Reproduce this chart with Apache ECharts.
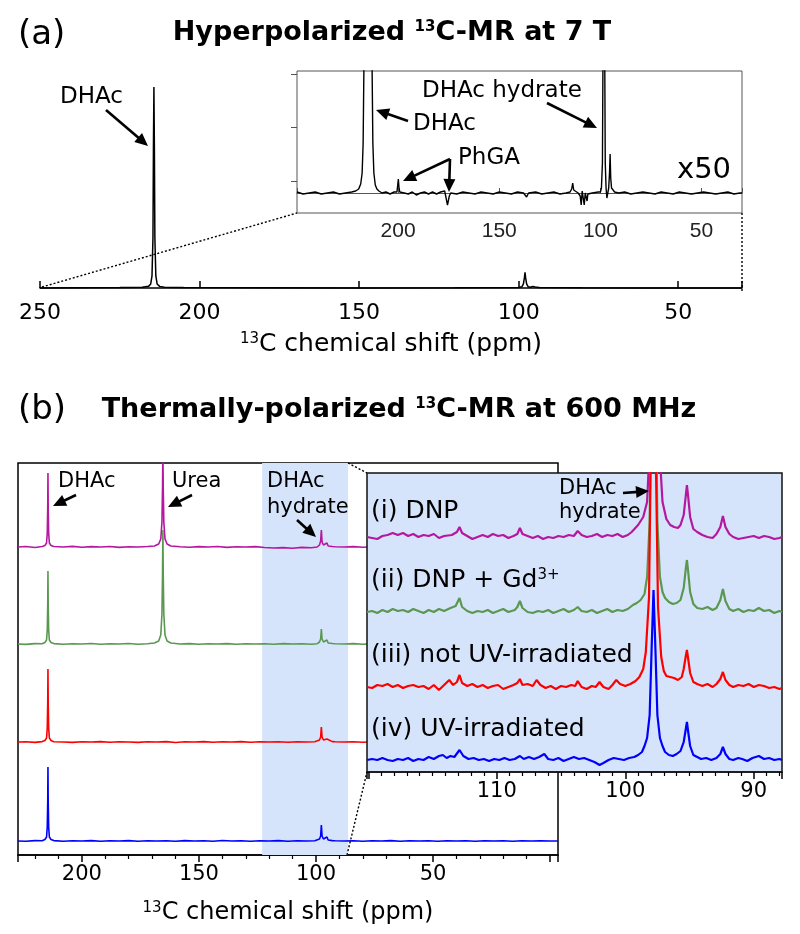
<!DOCTYPE html>
<html><head><meta charset="utf-8">
<script src="https://cdn.jsdelivr.net/npm/echarts@6/dist/echarts.min.js"></script>
<style>html,body{margin:0;padding:0;background:#fff}#c{width:800px;height:934px}</style>
</head><body><div id="c"></div>
<script>
// ---------- DATA ----------
// (a) hyperpolarized spectrum, [ppm, relative intensity]
const hpMain = [[250,0],[240,0.001],[225,0.002],[218,0.004],[216,0.008],[215.3,0.02],[214.9,0.06],[214.6,0.25],[214.45,0.7],[214.3,1.0],[214.15,0.7],[214.0,0.25],[213.7,0.06],[213.3,0.02],[212.5,0.008],[211,0.004],[205,0.002],[180,0.001],[150,0],[120,0.001],[100,0.002],[99,0.006],[98.5,0.02],[98.2,0.05],[98.0,0.078],[97.8,0.05],[97.5,0.02],[97,0.006],[96.3,0.004],[95.6,0.008],[95.2,0.01],[94.8,0.005],[93.5,0.002],[80,0.001],[60,0],[30,0]];
// (a) inset, x50 vertical zoom
const hpInset = [[250,1],[247,-1],[244,0],[241,1],[238,-1],[235,0],[232,1],[229,-1],[226,0],[223,1],[221,2],[219.5,4],[218.5,9],[217.8,20],[217.3,50],[216.8,150],[216,400],[214.5,500],[213.5,400],[213,150],[212.5,50],[212,20],[211.3,8],[210.5,4],[209.5,2],[208,0],[206,1],[204,-1],[202,1],[200.6,1],[200.2,8],[199.9,14],[199.6,6],[199.2,1],[197,0],[195,-1],[193,1],[191,-2],[189,0],[187,1],[185,-1],[183,1],[181,-1],[179,1],[177,2],[176.2,4],[175.6,-12],[175.2,-8],[174.7,-3],[174,0],[171,-1],[168,1],[165,0],[162,-1],[159,1],[156,0],[153,-1],[150,1],[147,0],[144,-1],[141,1],[138,0],[136.5,-4],[135.5,0],[132,1],[129,-1],[126,0],[123,1],[120,-1],[117,0],[115,1],[114.2,4],[113.7,10],[113.2,3],[112.5,1],[111,0],[110,-3],[109.5,-12],[109,2],[108.5,-5],[108,-12],[107.5,0],[107,-2],[106.6,-8],[106.2,-1],[104,0],[101,1],[100,1],[99.5,5],[99,30],[98.7,150],[98.3,500],[97.9,150],[97.6,30],[97.2,5],[96.8,-5],[96.4,-3],[95.9,5],[95.5,20],[95.2,39],[94.9,15],[94.5,5],[94,3],[93,1],[91,0],[88,1],[85,-1],[82,0],[79,1],[76,0],[73,-1],[70,1],[67,0],[64,-1],[61,1],[58,0],[55,-1],[52,0],[49,1],[46,0],[43,-1],[40,0],[37,1],[34,-1],[31,0],[30,0]];

// (b) full spectra
const fullDNP = [[227.3,0],[224,0.5],[220,-0.5],[217,0.5],[215.8,1.5],[215.1,4],[214.8,14],[214.6,40],[214.5,74],[214.4,40],[214.2,14],[213.9,4],[213.2,1.5],[212,0.5],[208,0],[204,0.6],[200,-0.3],[196,0.4],[192,0],[188,0.5],[184,-0.4],[180,0.3],[176,0],[172,0.5],[169,1],[167.2,3],[166.3,8],[165.8,25],[165.55,60],[165.4,95],[165.25,60],[165.0,25],[164.5,8],[163.6,3],[162,1],[158,0.3],[154,-0.3],[150,0.4],[146,0],[142,0.5],[138,-0.4],[134,0.2],[130,0],[126,0.4],[122,-0.5],[118,-1],[114,-0.6],[110,-1.2],[106,-0.4],[102,-0.8],[99.5,0],[98.5,2],[98,6],[97.7,17],[97.4,5],[96.8,2],[96,1],[95.3,4],[94.8,1],[93,0.5],[92.4,2],[91.8,0.3],[88,0],[84,0.4],[80,-0.3],[76,0.3],[72,0],[68,0.5],[64,-0.3],[60,0.3],[56,0],[52,0.4],[48,-0.3],[44,0.2],[40,0],[36,0.4],[32,-0.2],[28,0.3],[24,0],[20,0.3],[16,-0.2],[12,0.3],[8,0],[4,0.3],[0,0],[-3.4,0]];
const fullGd = [[227.3,0],[224,-0.4],[220,0.4],[217,0.3],[215.8,1.5],[215.1,4],[214.8,14],[214.6,40],[214.5,73],[214.4,40],[214.2,14],[213.9,4],[213.2,1.5],[212,0.4],[208,-0.3],[204,0.3],[200,0],[196,0.5],[192,-0.3],[188,0.2],[184,0],[180,0.5],[176,-0.2],[172,0.3],[169,1],[167.2,3],[166.3,9],[165.8,30],[165.55,70],[165.4,114],[165.25,70],[165.0,30],[164.5,9],[163.6,3],[162,1],[158,0],[154,0.4],[150,-0.3],[146,0.3],[142,0],[138,0.4],[134,-0.3],[130,0.3],[126,0],[122,0.3],[118,-0.2],[114,0.4],[110,0],[106,0.3],[102,-0.2],[99.5,0.3],[98.5,2],[98,5],[97.7,15],[97.4,5],[96.8,2],[96,1],[95.3,4],[94.8,1],[93,0.5],[92.4,2],[91.8,0.3],[88,0],[84,0.4],[80,-0.3],[76,0.4],[72,0],[68,0.3],[64,-0.3],[60,0.4],[56,0],[52,0.3],[48,-0.2],[44,0.3],[40,0],[36,0.3],[32,-0.2],[28,0.4],[24,0],[20,0.3],[16,-0.2],[12,0.3],[8,0],[4,0.2],[0,0],[-3.4,0]];
const fullNotUV = [[227.3,0],[224,0.3],[220,-0.4],[217,0.4],[215.8,1.5],[215.1,4],[214.8,14],[214.6,40],[214.5,73],[214.4,40],[214.2,14],[213.9,4],[213.2,1.5],[212,0.3],[208,0],[204,-0.4],[200,0.3],[196,0],[192,0.4],[188,-0.3],[184,0.3],[180,0],[176,-0.4],[172,0.3],[168,0],[164,0.4],[160,-0.5],[156,0.2],[152,0],[148,0.4],[144,-0.3],[140,0.3],[136,0],[132,0.4],[128,-0.3],[124,0.2],[120,0],[116,0.3],[112,-0.3],[108,0.2],[104,0],[100.5,0.3],[98.5,2],[98,5],[97.7,15],[97.4,5],[96.8,2],[96,1],[95.3,3],[94.8,1],[93,0.4],[92.4,1.5],[91.8,0.2],[88,0],[84,0.3],[80,-0.3],[76,0.3],[72,0],[68,0.4],[64,-0.2],[60,0.3],[56,0],[52,0.3],[48,-0.3],[44,0.2],[40,0],[36,0.3],[32,-0.2],[28,0.3],[24,0],[20,0.3],[16,-0.2],[12,0.2],[8,0],[4,0.3],[0,0],[-3.4,0]];
const fullUV = [[227.3,0],[224,-0.3],[220,0.4],[217,0.3],[215.8,1.5],[215.1,4],[214.8,14],[214.6,40],[214.5,74],[214.4,40],[214.2,14],[213.9,4],[213.2,1.5],[212,0.4],[208,-0.3],[204,0.3],[200,0],[196,0.4],[192,-0.3],[188,0.3],[184,0],[180,0.4],[176,-0.3],[172,0.2],[168,0],[164,0.3],[160,-0.3],[156,0.4],[152,0],[148,0.3],[144,-0.3],[140,0.5],[136,0],[132,0.3],[128,-0.2],[124,0.3],[120,0],[116,0.4],[112,-0.2],[108,0.3],[104,0],[100.5,0.3],[98.5,2],[98,5],[97.7,16],[97.4,5],[96.8,2],[96,1],[95.3,4],[94.8,1],[93,0.4],[92.4,1.5],[91.8,0.2],[88,0],[84,0.3],[80,-0.2],[76,0.3],[72,0],[68,0.4],[64,-0.3],[60,0.3],[56,0],[52,0.3],[48,-0.2],[44,0.3],[40,0],[36,0.2],[32,-0.3],[28,0.3],[24,0],[20,0.2],[16,-0.2],[12,0.3],[8,0],[4,0.2],[0,0],[-3.4,0]];

// (b) zoomed spectra (DHAc hydrate region)
const zoomDNP = [[120.1,0],[119.7,-1],[119.3,-2],[118.9,1],[118.5,2],[118.1,4],[117.7,2],[117.3,4],[116.9,1],[116.5,3],[116.1,0],[115.7,2],[115.3,1],[114.9,3],[114.5,-1],[114.1,1],[113.5,2],[113.1,5],[112.9,10],[112.7,4],[112.3,1],[111.9,-2],[111.5,0],[111.1,2],[110.7,0],[110.3,3],[109.9,1],[109.5,2],[109.1,-1],[108.7,1],[108.4,3],[108.2,9],[108.0,3],[107.6,1],[107.2,-1],[106.8,1],[106.4,-2],[106,0],[105.6,-1],[105.2,1],[104.8,0],[104.4,2],[104.0,1],[103.7,6],[103.4,2],[103.0,0],[102.6,1],[102.2,3],[101.8,0],[101.4,2],[101,1],[100.6,3],[100.2,0],[99.8,2],[99.5,5],[99.0,12],[98.6,20],[98.3,35],[98.1,90],[97.95,400],[97.5,400],[97.35,90],[97.1,35],[96.8,18],[96.5,12],[96.2,10],[95.9,9],[95.7,12],[95.45,22],[95.3,40],[95.2,52],[95.1,40],[94.95,20],[94.7,8],[94.4,5],[94.0,2],[93.6,0],[93.2,-1],[92.9,3],[92.6,10],[92.4,21],[92.2,10],[91.9,3],[91.6,0],[91.2,-2],[90.8,-1],[90.4,0],[90,1],[89.6,-1],[89.2,1],[88.8,0],[88.4,-2],[88,-1],[87.8,0]];
const zoomGd = [[120.1,0],[119.7,1],[119.3,-1],[118.9,2],[118.5,0],[118.1,3],[117.7,1],[117.3,2],[116.9,0],[116.5,3],[116.1,1],[115.7,-1],[115.3,2],[114.9,0],[114.5,3],[114.1,1],[113.6,4],[113.2,6],[112.9,14],[112.7,5],[112.3,1],[111.9,-1],[111.5,1],[111.1,0],[110.7,2],[110.3,-1],[109.9,1],[109.5,3],[109.1,0],[108.6,2],[108.4,5],[108.2,11],[108,4],[107.6,0],[107.2,-1],[106.8,1],[106.4,0],[106,2],[105.6,-1],[105.2,1],[104.8,3],[104.4,0],[104.0,2],[103.7,5],[103.4,1],[103,0],[102.6,2],[102.2,-1],[101.8,1],[101.4,3],[101,0],[100.6,2],[100.2,1],[99.8,3],[99.4,7],[99.1,9],[98.8,12],[98.5,18],[98.3,35],[98.1,90],[97.9,320],[97.7,320],[97.5,90],[97.3,35],[97.1,20],[96.9,14],[96.6,10],[96.3,8],[96,9],[95.7,12],[95.45,24],[95.3,42],[95.2,52],[95.1,40],[94.95,20],[94.7,8],[94.4,4],[94,3],[93.6,5],[93.2,2],[92.9,4],[92.6,12],[92.4,23],[92.2,11],[91.9,3],[91.6,1],[91.2,3],[90.8,0],[90.4,2],[90,1],[89.6,4],[89.2,1],[88.8,2],[88.4,-1],[88,1],[87.8,0]];
const zoomNotUV = [[120.1,0],[119.7,-1],[119.3,2],[118.9,1],[118.5,3],[118.1,0],[117.7,2],[117.3,-1],[116.9,1],[116.5,2],[116.1,0],[115.7,1],[115.3,-2],[114.9,2],[114.5,-3],[114.1,2],[113.7,7],[113.4,2],[113.1,5],[112.9,12],[112.7,4],[112.3,1],[111.9,3],[111.5,0],[111.1,2],[110.7,-1],[110.3,1],[109.9,2],[109.5,-2],[109.1,0],[108.7,2],[108.4,4],[108.2,8],[108,2],[107.6,3],[107.2,1],[106.9,7],[106.6,2],[106.2,-1],[105.8,1],[105.4,-2],[105,1],[104.6,0],[104.2,2],[103.9,1],[103.7,6],[103.4,0],[103,-2],[102.6,1],[102.3,0],[102,5],[101.7,0],[101.3,-2],[101,2],[100.7,7],[100.4,3],[100,1],[99.6,3],[99.2,6],[98.9,10],[98.6,18],[98.4,35],[98.15,90],[97.95,300],[97.7,300],[97.45,80],[97.2,30],[97.0,16],[96.8,11],[96.5,10],[96.2,9],[95.9,7],[95.6,10],[95.45,18],[95.3,30],[95.2,37],[95.1,28],[94.95,14],[94.7,5],[94.4,3],[94,1],[93.6,3],[93.2,0],[92.9,3],[92.6,8],[92.4,15],[92.2,7],[91.9,2],[91.6,0],[91.2,2],[90.8,1],[90.4,3],[90,0],[89.6,2],[89.2,1],[88.8,-1],[88.4,0],[88,-2],[87.8,-1]];
const zoomUV = [[120.1,0],[119.7,1],[119.3,0],[118.9,2],[118.5,0],[118.1,-1],[117.7,1],[117.3,0],[116.9,2],[116.5,-1],[116.1,1],[115.7,0],[115.3,3],[114.9,1],[114.5,4],[114.2,5],[113.9,2],[113.6,4],[113.3,3],[112.9,10],[112.6,4],[112.2,1],[111.8,2],[111.4,0],[111,1],[110.6,-1],[110.2,1],[109.8,0],[109.4,2],[109,0],[108.6,1],[108.2,4],[107.9,1],[107.5,3],[107.1,1],[106.7,3],[106.3,6],[106,1],[105.6,0],[105.2,2],[104.8,-1],[104.4,1],[104,3],[103.6,1],[103.2,2],[102.8,0],[102.4,-2],[102,-5],[101.7,-3],[101.3,0],[100.9,2],[100.5,1],[100.1,0],[99.7,2],[99.3,3],[99.0,5],[98.7,8],[98.5,14],[98.3,22],[98.1,45],[97.95,110],[97.8,170],[97.65,110],[97.5,45],[97.3,22],[97.1,14],[96.9,8],[96.6,5],[96.3,4],[96,6],[95.7,9],[95.45,18],[95.3,30],[95.2,38],[95.1,28],[94.95,14],[94.7,5],[94.4,3],[94.1,1],[93.7,2],[93.3,0],[92.9,2],[92.6,6],[92.4,13],[92.2,6],[91.9,1],[91.6,0],[91.2,2],[90.9,1],[90.5,-1],[90.1,2],[89.6,4],[89.2,1],[88.8,2],[88.4,0],[88,1],[87.8,0]];

const traceNames = ['(i) DNP', '(ii) DNP + Gd{s|3+}', '(iii) not UV-irradiated', '(iv) UV-irradiated'];
const topTickLabels = [250, 200, 150, 100, 50];
const insetTickLabels = [200, 150, 100, 50];
const fullTickLabels = [200, 150, 100, 50];
const zoomTickLabels = [110, 100, 90];
const bandRange = [123, 86.3];

// ---------- LAYOUT / STYLE ----------
const F = 'DejaVu Sans';
const colors = ['#b5179e', '#5a9850', '#ff0000', '#0000ff'];
const fullOffsets = [308, 211, 113, 14];
const zoomOffsets = [235, 160, 85, 12];
const fullSets = [fullDNP, fullGd, fullNotUV, fullUV];
const zoomSets = [zoomDNP, zoomGd, zoomNotUV, zoomUV];

function shift(arr, off) { return arr.map(p => [p[0], p[1] + off]); }
function onlyLabels(list) { return v => (list.indexOf(Math.round(v * 1000) / 1000) >= 0 ? String(v) : ''); }

const chart = echarts.init(document.getElementById('c'), null, { renderer: 'canvas', width: 800, height: 934 });

const nameRich = (size, sup) => ({
  fontFamily: F, fontSize: size, color: '#000',
  rich: { s: { fontFamily: F, fontSize: sup, verticalAlign: 'top', color: '#000', lineHeight: size } }
});

const series = [];
series.push({ type: 'line', xAxisIndex: 0, yAxisIndex: 0, data: hpMain, symbol: 'none', animation: false,
  lineStyle: { color: '#000', width: 1.5 }, itemStyle: { color: '#000' }, z: 2 });
series.push({ type: 'line', xAxisIndex: 1, yAxisIndex: 1, data: hpInset, symbol: 'none', animation: false,
  lineStyle: { color: '#000', width: 1.4 }, itemStyle: { color: '#000' }, z: 2 });
// shaded band on the full panel
series.push({ type: 'line', xAxisIndex: 3, yAxisIndex: 3, data: [], symbol: 'none', animation: false, z: 1,
  markArea: { silent: true, itemStyle: { color: '#d6e4fb' }, data: [[{ xAxis: bandRange[0] }, { xAxis: bandRange[1] }]] } });
fullSets.forEach((d, i) => series.push({ type: 'line', name: traceNames[i], xAxisIndex: 3, yAxisIndex: 3,
  data: shift(d, fullOffsets[i]), symbol: 'none', animation: false,
  lineStyle: { color: colors[i], width: 1.6 }, itemStyle: { color: colors[i] }, z: 2 }));
zoomSets.forEach((d, i) => series.push({ type: 'line', name: traceNames[i], xAxisIndex: 4, yAxisIndex: 4,
  data: shift(d, zoomOffsets[i]), symbol: 'none', animation: false,
  lineStyle: { color: colors[i], width: 2.2 }, itemStyle: { color: colors[i] }, z: 6 }));

// ---------- annotations ----------
function T(text, x, y, size, opts) {
  opts = opts || {};
  return { type: 'text', z: 100, style: {
    text: text, x: x, y: y, fill: '#000',
    font: (opts.bold ? 'bold ' : '') + size + 'px "' + F + '"',
    align: opts.align || 'left', verticalAlign: 'middle',
    textAlign: opts.align || 'left', textVerticalAlign: 'middle',
    rich: { s: { fontFamily: F, fontSize: opts.sup || Math.round(size * 0.6), fontWeight: opts.bold ? 'bold' : 'normal', verticalAlign: 'top', lineHeight: size, fill: '#000' } }
  } };
}
function arrow(x1, y1, x2, y2) {
  const L = 13, W = 6;
  const dx = x2 - x1, dy = y2 - y1, len = Math.sqrt(dx * dx + dy * dy);
  const ux = dx / len, uy = dy / len;
  const bx = x2 - ux * L, by = y2 - uy * L;
  return [
    { type: 'line', z: 100, shape: { x1: x1, y1: y1, x2: bx + ux * 2, y2: by + uy * 2 }, style: { stroke: '#000', lineWidth: 2.6 } },
    { type: 'polygon', z: 100, shape: { points: [[x2, y2], [bx - uy * W, by + ux * W], [bx + uy * W, by - ux * W]] }, style: { fill: '#000' } }
  ];
}
function dotted(x1, y1, x2, y2) {
  return { type: 'line', z: 100, shape: { x1: x1, y1: y1, x2: x2, y2: y2 }, style: { stroke: '#000', lineWidth: 1.4, lineDash: [2, 2] } };
}

const graphics = [
  T('(a)', 18, 35, 34),
  T('Hyperpolarized {s|13}C-MR at 7 T', 392, 33, 27, { bold: true, align: 'center', sup: 15 }),
  T('DHAc', 60, 97, 23),
  T('DHAc hydrate', 422, 91, 23),
  T('DHAc', 413, 124, 23),
  T('PhGA', 458, 158, 23),
  T('x50', 677, 170, 29),
  T('(b)', 18, 410, 34),
  T('Thermally-polarized {s|13}C-MR at 600 MHz', 399, 410, 27, { bold: true, align: 'center', sup: 15 }),
  T('DHAc', 58, 482, 21),
  T('Urea', 172, 482, 21),
  T('DHAc', 267, 482, 21),
  T('hydrate', 267, 508, 21),
  T(traceNames[0], 371, 511, 25),
  T(traceNames[1], 371, 580, 25, { sup: 15 }),
  T(traceNames[2], 371, 655, 25),
  T(traceNames[3], 371, 729, 25),
  T('DHAc', 559, 489, 21),
  T('hydrate', 559, 513, 21),
  dotted(42, 287, 297, 213),
  dotted(742, 213, 742, 293),
  dotted(348, 463, 367, 473),
  dotted(347, 855, 367, 772)
].concat(
  arrow(106, 110, 148, 146),
  arrow(408, 121, 376, 110),
  arrow(547, 103, 597, 128),
  arrow(450, 159, 403, 181),
  arrow(450, 159, 449, 192),
  arrow(76, 495, 53, 506),
  arrow(192, 495, 168, 507),
  arrow(297, 520, 316, 537),
  arrow(623, 493, 649, 491)
);

const noSplit = { show: false };
const option = {
  animation: false,
  backgroundColor: '#fff',
  grid: [
    { left: 40, top: 87, width: 702, height: 206 },
    { left: 297, top: 71, width: 445, height: 142, show: true, borderColor: '#555', borderWidth: 1, backgroundColor: 'transparent' },
    { left: 297, top: 74, width: 445, height: 107 },
    { left: 18, top: 463, width: 540, height: 392, show: true, borderColor: '#000', borderWidth: 1.5, backgroundColor: 'transparent' },
    { left: 367, top: 473, width: 415, height: 299, show: true, borderColor: '#111', borderWidth: 1.5, backgroundColor: '#d6e4fb', z: 3 }
  ],
  xAxis: [
    { gridIndex: 0, type: 'value', min: 30, max: 250, inverse: true, splitNumber: 5, splitLine: noSplit,
      axisLine: { lineStyle: { color: '#000', width: 1.5 } },
      axisTick: { inside: true, length: 7, lineStyle: { color: '#000', width: 1.5 } },
      axisLabel: { formatter: onlyLabels(topTickLabels), fontFamily: F, fontSize: 22, color: '#000', margin: 9 },
      name: '{s|13}C chemical shift (ppm)', nameLocation: 'middle', nameGap: 39, nameTextStyle: nameRich(25, 15) },
    { gridIndex: 1, type: 'value', min: 30, max: 250, inverse: true, splitNumber: 5, splitLine: noSplit,
      axisLine: { lineStyle: { color: '#555', width: 1 } },
      axisTick: { inside: true, length: 5, lineStyle: { color: '#555', width: 1 } },
      axisLabel: { formatter: onlyLabels(insetTickLabels), fontFamily: 'Liberation Sans', fontSize: 21, color: '#222', margin: 8 } },
    { gridIndex: 2, type: 'value', min: 0, max: 1, show: false, splitLine: noSplit },
    { gridIndex: 3, type: 'value', min: -3.4, max: 227.3, inverse: true, splitNumber: 5, splitLine: noSplit,
      axisLine: { lineStyle: { color: '#000', width: 1.5 } },
      axisTick: { length: 7, lineStyle: { color: '#000', width: 1.5 } },
      minorTick: { show: true, splitNumber: 5, length: 4, lineStyle: { color: '#000', width: 1.2 } },
      axisLabel: { formatter: onlyLabels(fullTickLabels), fontFamily: F, fontSize: 21, color: '#000', margin: 9 },
      name: '{s|13}C chemical shift (ppm)', nameLocation: 'middle', nameGap: 46, nameTextStyle: nameRich(24, 15) },
    { gridIndex: 4, type: 'value', min: 87.8, max: 120.1, inverse: true, splitNumber: 3, splitLine: noSplit, z: 7,
      axisLine: { lineStyle: { color: '#111', width: 1.5 } },
      axisTick: { length: 7, lineStyle: { color: '#000', width: 1.5 } },
      minorTick: { show: true, splitNumber: 10, length: 4, lineStyle: { color: '#000', width: 1.2 } },
      axisLabel: { formatter: onlyLabels(zoomTickLabels), fontFamily: F, fontSize: 21, color: '#000', margin: 9 } }
  ],
  yAxis: [
    { gridIndex: 0, type: 'value', min: -0.025, max: 1, show: false, splitLine: noSplit },
    { gridIndex: 1, type: 'value', min: -20, max: 122, show: false, splitLine: noSplit },
    { gridIndex: 2, type: 'value', min: 0, max: 2, interval: 1, position: 'right', splitLine: noSplit,
      axisLine: { show: false }, axisLabel: { show: false },
      axisTick: { inside: true, length: 6, lineStyle: { color: '#555', width: 1 } } },
    { gridIndex: 3, type: 'value', min: 0, max: 392, show: false, splitLine: noSplit },
    { gridIndex: 4, type: 'value', min: 0, max: 299, show: false, splitLine: noSplit }
  ],
  series: series,
  graphic: { elements: graphics }
};
chart.setOption(option);
</script></body></html>
